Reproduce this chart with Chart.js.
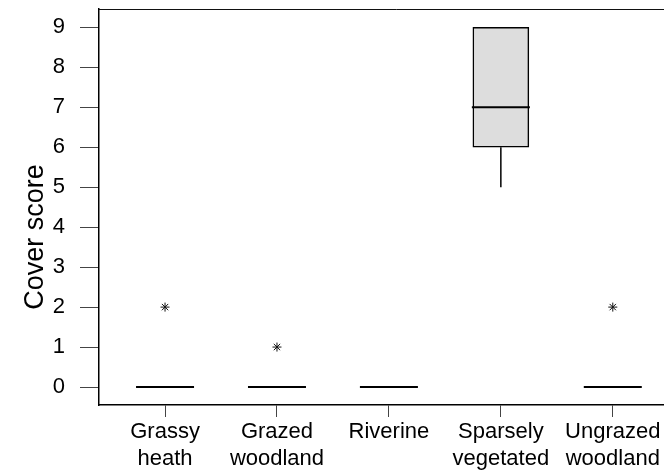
<!DOCTYPE html>
<html>
<head>
<meta charset="utf-8">
<script src="https://cdn.jsdelivr.net/npm/chart.js@4"></script>
<style>
  html, body { margin: 0; padding: 0; background: #fff; overflow: hidden; }
  /* plot frame runs off the right edge of the page */
  #wrap { width: 700px; height: 476px; position: relative; }
</style>
</head>
<body>
<div id="wrap"><canvas id="coverChart"></canvas></div>
<script>
// Vegetation groups (x categories), one box per group
const groups = [['Grassy', 'heath'], ['Grazed', 'woodland'], ['Riverine'], ['Sparsely', 'vegetated'], ['Ungrazed', 'woodland']];
const q1 = [0, 0, 0, 6, 0];
const medians = [0, 0, 0, 7, 0];
const q3 = [0, 0, 0, 9, 0];
const whiskerLow = [0, 0, 0, 5, 0];
const whiskerHigh = [0, 0, 0, 9, 0];
const outliers = [[2], [1], [], [], [2]];
const yTicks = [0, 1, 2, 3, 4, 5, 6, 7, 8, 9];

const FONT = "'Liberation Sans', Arial, Helvetica, sans-serif";
const BOX_WIDTH = 56;

// boxes with a real spread become floating bars [q1, q3]
const boxData = groups.map((g, i) => (q3[i] > q1[i] ? { x: i, y: [q1[i], q3[i]] } : null)).filter(Boolean);
const outlierData = outliers.flatMap((vals, i) => vals.map(v => ({ x: i, y: v })));

// medians, whiskers, top frame line and the rotated y title
const boxPlotExtras = {
  id: 'boxPlotExtras',
  afterDatasetsDraw(chart) {
    const { ctx, chartArea } = chart;
    const xs = chart.scales.x, ys = chart.scales.y;
    ctx.save();
    ctx.strokeStyle = '#000';
    ctx.lineCap = 'butt';

    groups.forEach((g, i) => {
      const cx = xs.getPixelForValue(i);
      // whiskers
      ctx.lineWidth = 1.5;
      if (whiskerLow[i] < q1[i]) {
        ctx.beginPath();
        ctx.moveTo(cx, ys.getPixelForValue(q1[i]));
        ctx.lineTo(cx, ys.getPixelForValue(whiskerLow[i]));
        ctx.stroke();
      }
      if (whiskerHigh[i] > q3[i]) {
        ctx.beginPath();
        ctx.moveTo(cx, ys.getPixelForValue(q3[i]));
        ctx.lineTo(cx, ys.getPixelForValue(whiskerHigh[i]));
        ctx.stroke();
      }
      // median
      const my = ys.getPixelForValue(medians[i]);
      ctx.lineWidth = 2;
      ctx.beginPath();
      ctx.moveTo(cx - BOX_WIDTH / 2 - 1, my);
      ctx.lineTo(cx + BOX_WIDTH / 2 + 1, my);
      ctx.stroke();
    });

    // top frame line
    ctx.lineWidth = 1;
    ctx.strokeStyle = '#111';
    ctx.beginPath();
    ctx.moveTo(chartArea.left, chartArea.top + 0.5);
    ctx.lineTo(chartArea.right, chartArea.top + 0.5);
    ctx.stroke();

    // y axis title
    ctx.fillStyle = '#000';
    ctx.font = '27px ' + FONT;
    ctx.textAlign = 'center';
    ctx.textBaseline = 'alphabetic';
    ctx.translate(chartArea.left - 56, (chartArea.top + chartArea.bottom) / 2 + 30);
    ctx.rotate(-Math.PI / 2);
    ctx.fillText('Cover score', 0, 0);
    ctx.restore();
  }
};

// keep the plot area where the layout puts it (no extra room for edge labels)
function noEdgePadding(s) {
  s.paddingLeft = 0;
  s.paddingRight = 0;
  s.paddingTop = 0;
  s.paddingBottom = 0;
}

const ctx = document.getElementById('coverChart').getContext('2d');
const coverChart = new Chart(ctx, {
  type: 'bar',
  data: {
    datasets: [{
      label: 'IQR',
      data: boxData,
      backgroundColor: '#dddddd',
      borderColor: '#000',
      borderWidth: 1.5,
      borderSkipped: false,
      barThickness: BOX_WIDTH
    }, {
      type: 'scatter',
      label: 'Outliers',
      data: outlierData,
      pointStyle: 'star',
      radius: 4.5,
      borderColor: '#111',
      borderWidth: 1,
      backgroundColor: '#111'
    }]
  },
  options: {
    responsive: true,
    maintainAspectRatio: false,
    animation: false,
    layout: { padding: { top: 9, right: 0, left: 0, bottom: 0 } },
    plugins: {
      legend: { display: false },
      tooltip: { enabled: false }
    },
    scales: {
      x: {
        type: 'linear',
        offset: false,
        min: -0.59,
        max: 4.73,
        afterBuildTicks: s => { s.ticks = groups.map((g, i) => ({ value: i })); },
        afterFit: s => { s.height = 71; noEdgePadding(s); },
        grid: { offset: false, drawOnChartArea: false, tickLength: 12, color: '#444', lineWidth: 1 },
        border: { display: true, color: '#000', width: 1.5 },
        ticks: {
          autoSkip: false,
          maxRotation: 0,
          padding: 2,
          color: '#000',
          font: { family: FONT, size: 22, lineHeight: 1.2 },
          callback: v => groups[v]
        }
      },
      y: {
        min: -0.45,
        max: 9.46,
        afterBuildTicks: s => { s.ticks = yTicks.map(v => ({ value: v })); },
        afterFit: s => { s.width = 99; noEdgePadding(s); },
        grid: { drawOnChartArea: false, tickLength: 19, color: '#444', lineWidth: 1 },
        border: { display: true, color: '#000', width: 1.5 },
        ticks: {
          padding: 15,
          color: '#000',
          font: { family: FONT, size: 22 },
          callback: v => String(v)
        }
      }
    }
  },
  plugins: [boxPlotExtras]
});
</script>
</body>
</html>
